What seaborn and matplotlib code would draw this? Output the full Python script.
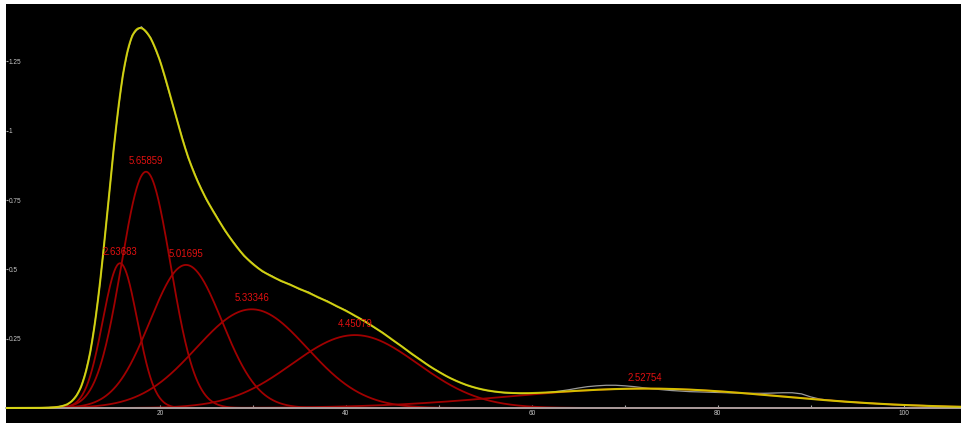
import numpy as np
import pandas as pd
import matplotlib
matplotlib.use("Agg")
import matplotlib.pyplot as plt
import seaborn as sns

# Gaussian components of the fit: centre, peak height, width (sigma) and the area label
centers = [15.70, 18.49, 22.79, 29.86, 40.97, 72.2]
heights = [0.522, 0.852, 0.516, 0.356, 0.263, 0.070]
sigmas = [1.85, 2.649, 3.878, 5.976, 6.75, 14.4]
area_labels = ["2.63683", "5.65859", "5.01695", "5.33346", "4.45079", "2.52754"]

# Measured profile
obs_x = [6, 7, 8, 9, 10, 10.5, 11, 11.5, 12, 12.5, 13, 13.5, 14, 14.5, 15, 15.5,
         16, 16.5, 17, 17.5, 18, 18.5, 19, 19.5, 20, 21, 22, 23, 24, 25, 26, 27,
         28, 29, 30, 31, 32, 33, 34, 35, 36, 37, 38, 39, 40, 41, 42, 43, 44, 45,
         46, 47, 48, 49, 50, 51, 52, 53, 54, 55, 56, 57, 58, 59, 60, 61, 62, 63,
         64, 65, 66, 67, 68, 69, 70, 71, 72, 73, 74, 75, 76, 77, 78, 79, 80, 81,
         82, 83, 84, 85, 86, 87, 88, 89, 90, 91, 92, 93, 94, 95, 96, 97, 98, 99,
         100, 101, 102, 103, 104, 105, 106]
obs_y = [0.000, 0.001, 0.002, 0.004, 0.012, 0.025, 0.045, 0.075, 0.130, 0.201,
         0.309, 0.437, 0.597, 0.760, 0.931, 1.075, 1.202, 1.284, 1.344, 1.363,
         1.375, 1.355, 1.335, 1.294, 1.253, 1.136, 1.019, 0.905, 0.823, 0.750,
         0.696, 0.638, 0.594, 0.549, 0.521, 0.492, 0.477, 0.457, 0.446, 0.428,
         0.418, 0.398, 0.386, 0.366, 0.352, 0.331, 0.314, 0.291, 0.271, 0.245,
         0.223, 0.196, 0.175, 0.150, 0.131, 0.111, 0.096, 0.082, 0.072, 0.064,
         0.059, 0.055, 0.053, 0.052, 0.052, 0.054, 0.057, 0.061, 0.066, 0.072,
         0.077, 0.080, 0.082, 0.082, 0.080, 0.077, 0.073, 0.069, 0.066, 0.063,
         0.061, 0.059, 0.058, 0.057, 0.056, 0.055, 0.054, 0.053, 0.053, 0.053,
         0.054, 0.055, 0.055, 0.051, 0.040, 0.032, 0.028, 0.025, 0.022, 0.020,
         0.018, 0.016, 0.014, 0.012, 0.011, 0.010, 0.009, 0.008, 0.006, 0.005,
         0.004]

x_major = [20, 40, 60, 80, 100]
x_minor = [10, 30, 50, 70, 90]
y_ticks = [0.25, 0.5, 0.75, 1.0, 1.25]
y_labels = ["0.25", "0.5", "0.75", "1", "1.25"]

X_LIM = (3.43, 106.27)
Y_LIM = (-0.0541, 1.457)

# Evaluate the components and their sum on a fine grid
grid = np.linspace(X_LIM[0], X_LIM[1], 1500)
comp_frames = []
total = np.zeros_like(grid)
for i, (mu, h, s) in enumerate(zip(centers, heights, sigmas)):
    y = h * np.exp(-((grid - mu) ** 2) / (2 * s ** 2))
    total += y
    comp_frames.append(pd.DataFrame({"x": grid, "y": y, "comp": i}))
comp_df = pd.concat(comp_frames, ignore_index=True)
fit_df = pd.DataFrame({"x": grid, "y": total})
obs_df = pd.DataFrame({"x": obs_x, "y": obs_y})

fig = plt.figure(figsize=(9.62, 4.23), dpi=100, facecolor="white")
ax = fig.add_axes([6 / 962, 0, 956 / 962, 419 / 423])
ax.set_facecolor("black")

sns.lineplot(data=obs_df, x="x", y="y", color="#9a9a9a", linewidth=0.9,
             ax=ax, zorder=3)
sns.lineplot(data=comp_df, x="x", y="y", units="comp", estimator=None,
             color="#a00000", linewidth=1.3, ax=ax, zorder=3.5)
sns.lineplot(data=fit_df, x="x", y="y", color="#dede00", linewidth=1.5,
             alpha=0.85, ax=ax, zorder=5)

for mu, h, lab in zip(centers, heights, area_labels):
    ax.annotate(lab, xy=(mu, h), xytext=(0, 5.8), textcoords="offset points",
                ha="center", va="baseline", color="#e01010", fontsize=6.9,
                fontfamily=["Liberation Sans", "DejaVu Sans"], zorder=6)

ax.set_xlim(*X_LIM)
ax.set_ylim(*Y_LIM)
ax.set_xlabel("")
ax.set_ylabel("")

for side in ("left", "right", "top"):
    ax.spines[side].set_visible(False)
ax.spines["bottom"].set_position(("data", 0))
ax.spines["bottom"].set_color("#a8a8a8")
ax.spines["bottom"].set_linewidth(1.3)
ax.spines["bottom"].set_zorder(4)

ax.set_xticks(x_major, labels=[str(v) for v in x_major])
ax.set_xticks(x_minor, minor=True)
ax.tick_params(axis="x", which="both", direction="in", length=2.2, width=0.8,
               color="#a8a8a8", pad=1.5, labelsize=4.7, labelcolor="#c8c8c8")
ax.set_yticks(y_ticks, labels=y_labels, ha="left")
ax.tick_params(axis="y", direction="in", length=1.6, width=0.8,
               color="#a8a8a8", pad=-1.8, labelsize=4.7, labelcolor="#c8c8c8")
for lab in ax.get_xticklabels() + ax.get_yticklabels():
    lab.set_fontfamily(["Liberation Sans", "DejaVu Sans"])

fig.savefig("out.png", dpi=100, facecolor="white")
